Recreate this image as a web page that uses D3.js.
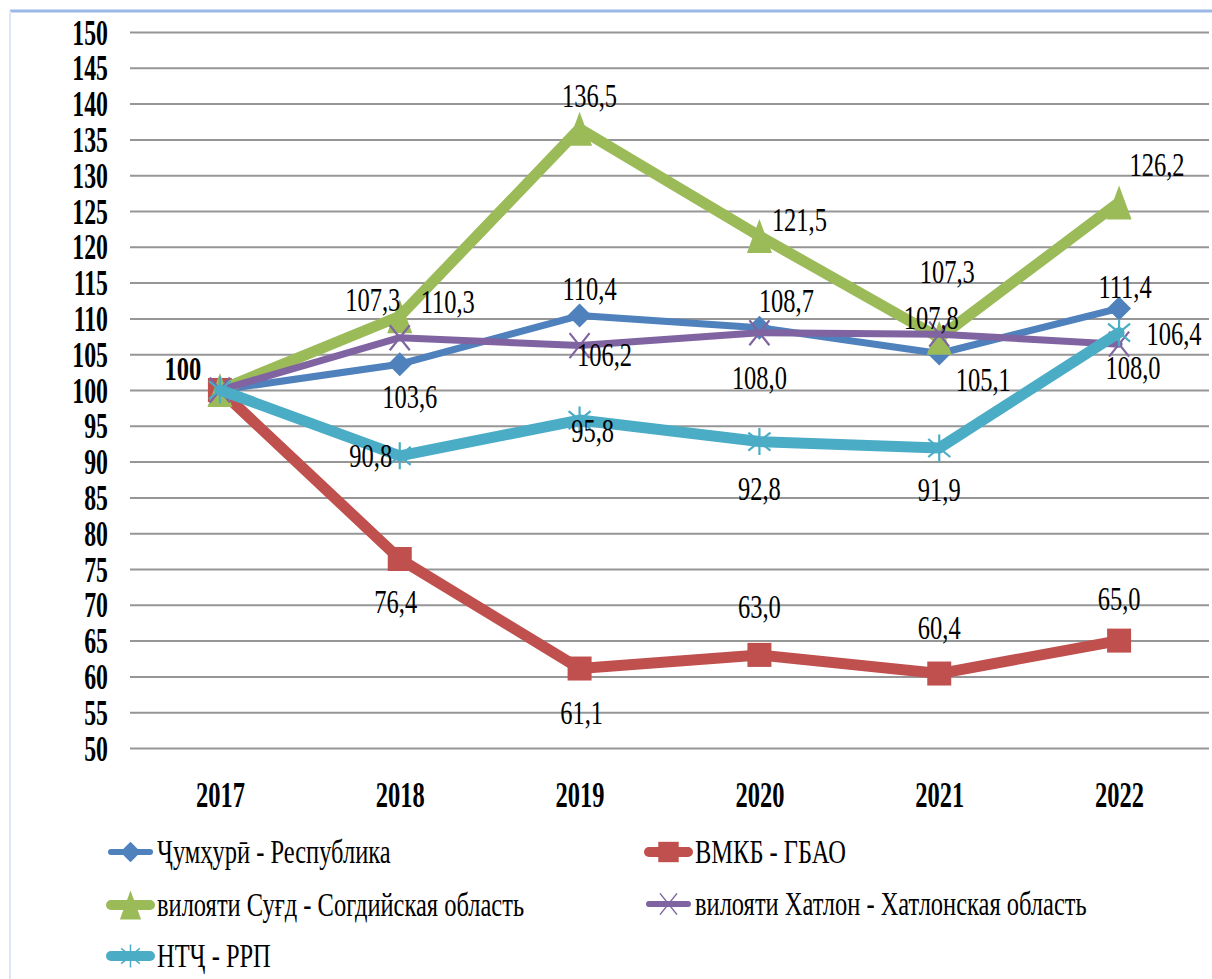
<!DOCTYPE html>
<html>
<head>
<meta charset="utf-8">
<script src="https://cdn.jsdelivr.net/npm/d3@7"></script>
<style>
  body { margin: 0; background: #fff; }
  svg { display: block; }
  svg text { font-family: "Liberation Serif", "Tinos", "Times New Roman", "DejaVu Serif", serif; }
</style>
</head>
<body>
<svg id="chart" width="1212" height="979"></svg>
<script>
// data
const years = ["2017", "2018", "2019", "2020", "2021", "2022"];
const respublika = [100, 103.6, 110.4, 108.7, 105.1, 111.4];
const gbao = [100, 76.4, 61.1, 63.0, 60.4, 65.0];
const sughd = [100, 110.3, 136.5, 121.5, 107.3, 126.2];
const khatlon = [100, 107.3, 106.2, 108.0, 107.8, 106.4];
const rrp = [100, 90.8, 95.8, 92.8, 91.9, 108.0];
const seriesNames = [
  "Ҷумҳурӣ - Республика",
  "ВМКБ - ГБАО",
  "вилояти Суғд - Согдийская область",
  "вилояти Хатлон - Хатлонская область",
  "НТҶ - РРП"
];
const yTicks = [50, 55, 60, 65, 70, 75, 80, 85, 90, 95, 100, 105, 110, 115, 120, 125, 130, 135, 140, 145, 150];

// styles: colours, line widths, markers, label offsets (dx, dy) per point
const styles = [
  { color: "#4f81bd", width: 7, marker: "diamond",
    labels: [[-37, -21], [10, 33], [10, -27], [27, -27], [44, 26], [6, -22]] },
  { color: "#c0504d", width: 11, marker: "square",
    labels: [null, [-4, 43], [2, 44], [0, -48], [0, -46], [0, -42]] },
  { color: "#9bbb59", width: 11, marker: "triangle",
    labels: [null, [48, -14], [10, -33], [40, -16], [8, -66], [38, -38]] },
  { color: "#8064a2", width: 7, marker: "x",
    labels: [null, [-27, -38], [25, 9], [0, 45], [-8, -16], [55, -10]] },
  { color: "#4bacc6", width: 11, marker: "star",
    labels: [null, [-29, 0], [13, 11], [0, 47], [0, 42], [14, 35]] }
];

const series = [respublika, gbao, sughd, khatlon, rrp].map((values, i) => ({
  name: seriesNames[i],
  values: values,
  ...styles[i]
}));

const margin = { left: 130, right: 3 };
const width = 1212, height = 979;
const svg = d3.select("#chart");
const SX = 0.72; // text in the source is horizontally squeezed

// frame
svg.append("line").attr("x1", 10).attr("x2", 1212).attr("y1", 11).attr("y2", 11)
  .attr("stroke", "#9cb9e6").attr("stroke-width", 3);
svg.append("line").attr("x1", 10).attr("x2", 10).attr("y1", 11).attr("y2", height)
  .attr("stroke", "#dde6f4").attr("stroke-width", 2);

const x = d3.scalePoint().domain(years).range([margin.left, width - margin.right]).padding(0.5);
// 50 -> 748, 150 -> 32
const y = d3.scaleLinear().domain([50, 150]).range([748, 32]);

// y axis with gridlines
const yAxis = svg.append("g")
  .attr("transform", `translate(${margin.left},0)`)
  .call(d3.axisLeft(y).tickValues(yTicks).tickSize(-(width - margin.right - margin.left)).tickPadding(0));
yAxis.attr("font-family", null);
yAxis.select(".domain").remove();
yAxis.selectAll(".tick line").attr("stroke", "#969696").attr("stroke-width", 2);
yAxis.selectAll(".tick text")
  .attr("x", null).attr("dy", null)
  .attr("transform", `translate(-22,12) scale(0.68,1)`)
  .attr("text-anchor", "end")
  .attr("font-size", 35).attr("font-weight", "bold").attr("fill", "#000");

// x axis labels
const xAxis = svg.append("g")
  .attr("transform", `translate(0,748)`)
  .call(d3.axisBottom(x).tickSize(0).tickPadding(0));
xAxis.attr("font-family", null);
xAxis.select(".domain").remove();
xAxis.selectAll(".tick text")
  .attr("y", null).attr("dy", null)
  .attr("transform", `translate(0,59) scale(0.7,1)`)
  .attr("font-size", 35).attr("font-weight", "bold").attr("fill", "#000");

// marker paths centred on 0,0
function markerPath(type, k = 1) {
  if (type === "diamond") {
    const w = 24 * k, h = 24 * k;
    return `M0,${-h / 2}L${w / 2},0L0,${h / 2}L${-w / 2},0Z`;
  }
  if (type === "square") {
    const s = 24 * k;
    return `M${-s / 2},${-s / 2}h${s}v${s}h${-s}Z`;
  }
  if (type === "triangle") {
    const w = 25 * k, h = 34 * k;
    return `M0,${-h / 2}L${w / 2},${h / 2}L${-w / 2},${h / 2}Z`;
  }
  if (type === "x") {
    const w = 20 * k, h = 25 * k;
    return `M${-w / 2},${-h / 2}L${w / 2},${h / 2}M${w / 2},${-h / 2}L${-w / 2},${h / 2}`;
  }
  // star / asterisk
  const w = 22 * k, h = 27 * k;
  return `M0,${-h / 2}V${h / 2}M${-w / 2},${-h / 3}L${w / 2},${h / 3}M${w / 2},${-h / 3}L${-w / 2},${h / 3}`;
}
const strokeOnly = (t) => t === "x" || t === "star";

const line = d3.line()
  .x((d, i) => x(years[i]))
  .y((d) => y(d));

const plot = svg.append("g");
series.forEach((s) => {
  const g = plot.append("g");
  g.append("path")
    .datum(s.values)
    .attr("fill", "none")
    .attr("stroke", s.color)
    .attr("stroke-width", s.width)
    .attr("stroke-linejoin", "round")
    .attr("stroke-linecap", "round")
    .attr("d", line);
  g.selectAll("path.mk")
    .data(s.values)
    .join("path")
    .attr("class", "mk")
    .attr("transform", (d, i) => `translate(${x(years[i])},${y(d)})`)
    .attr("d", markerPath(s.marker))
    .attr("fill", strokeOnly(s.marker) ? "none" : s.color)
    .attr("stroke", s.color)
    .attr("stroke-width", strokeOnly(s.marker) ? 2.2 : 0);
});

// data labels
const fmt = (v, i) => (i === 0 ? String(v) : d3.format(".1f")(v).replace(".", ","));
const labels = svg.append("g");
series.forEach((s) => {
  s.values.forEach((v, i) => {
    const off = s.labels[i];
    if (!off) return;
    labels.append("text")
      .attr("transform", `translate(${x(years[i]) + off[0]},${y(v) + off[1]}) scale(${SX},1)`)
      .attr("text-anchor", "middle")
      .attr("dy", "0.33em")
      .attr("font-size", 34)
      .attr("font-weight", i === 0 ? "bold" : "normal")
      .attr("fill", "#000")
      .text(fmt(v, i));
  });
});

// legend
const legendPos = [
  [107, 852], [645, 852],
  [107, 905], [645, 904],
  [107, 956]
];
const legend = svg.append("g");
series.forEach((s, i) => {
  const [lx, ly] = legendPos[i];
  const g = legend.append("g").attr("transform", `translate(${lx},${ly})`);
  g.append("line")
    .attr("x1", 4).attr("x2", 43)
    .attr("stroke", s.color)
    .attr("stroke-width", s.width - 1)
    .attr("stroke-linecap", "round");
  g.append("path")
    .attr("transform", "translate(23.5,0)")
    .attr("d", markerPath(s.marker, 0.85))
    .attr("fill", strokeOnly(s.marker) ? "none" : s.color)
    .attr("stroke", s.color)
    .attr("stroke-width", strokeOnly(s.marker) ? 1.5 : 0);
  g.append("text")
    .attr("transform", `translate(50,0) scale(${SX},1)`)
    .attr("dy", "0.33em")
    .attr("font-size", 34)
    .attr("fill", "#000")
    .text(s.name);
});
</script>
</body>
</html>
